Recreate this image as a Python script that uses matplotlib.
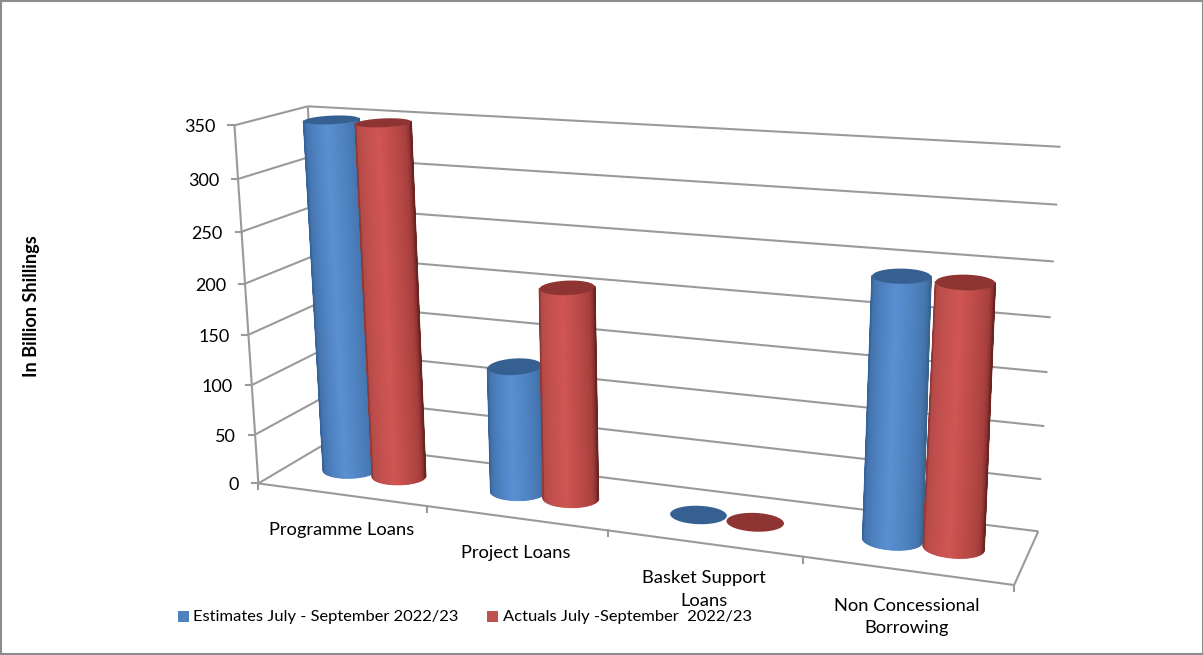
import matplotlib
matplotlib.use("Agg")
import matplotlib.pyplot as plt
import numpy as np
from matplotlib.collections import LineCollection
from matplotlib.colors import LinearSegmentedColormap
from matplotlib.patches import Polygon, Rectangle

plt.rcParams['font.family'] = ['Lato', 'DejaVu Sans']

categories = ["Programme Loans", "Project Loans", "Basket Support\nLoans", "Non Concessional\nBorrowing"]
series_names = ["Estimates July - September 2022/23", "Actuals July -September  2022/23"]
estimates = [349, 125, 0, 242]
actuals = [349, 206, 0, 241]
y_ticks = [0, 50, 100, 150, 200, 250, 300, 350]
y_label = "In Billion Shillings"

blue_shades = ["#37639a", "#4373ad", "#5a90d3", "#4577b1", "#3a6390"]
red_shades = ["#8f3a38", "#b54b49", "#d05653", "#a8403e", "#6a2422"]
shade_stops = [0, 0.12, 0.45, 0.8, 1]

BAR_STEP = 0.15
BASE_RU, BASE_RW = 0.145, 0.18
TOP_RU, TOP_RW = 0.135, 0.22
BAR_DEPTH = 0.5

# frame of the 3d box as it sits on the canvas: (category pos, value, depth) -> pixel
# used only to fit the camera below
frame_3d = [(0, 0, 0), (0, 350, 0), (0, 350, 1), (0, 0, 1), (4, 0, 1), (4, 350, 1), (4, 0, 0),
            (1, 0, 0), (2, 0, 0), (4, 200, 1), (4, 100, 1), (0, 100, 0), (0, 200, 0)]
frame_px = [(257, 484), (236, 125), (306, 107), (328, 442), (1038, 532), (1061, 147), (1014, 584),
            (427, 507), (608, 531), (1050, 317), (1045, 426), (252, 385), (245, 283)]


def fit_camera(pts3, pts2):
    a = []
    b = []
    for (u, v, w), (x, y) in zip(pts3, pts2):
        a.append([u, v, w, 1, 0, 0, 0, 0, -x * u, -x * v, -x * w])
        a.append([0, 0, 0, 0, u, v, w, 1, -y * u, -y * v, -y * w])
        b += [x, y]
    sol = np.linalg.lstsq(np.array(a, float), np.array(b, float), rcond=None)[0]
    return np.append(sol, 1).reshape(3, 4)


cam = fit_camera(frame_3d, frame_px)


def proj(u, v, w):
    u, v, w = np.broadcast_arrays(u, v, w)
    p = cam @ np.stack([u, v, w, np.ones_like(u)]).astype(float)
    return p[0] / p[2], p[1] / p[2]


def draw_line(ax, a, b, **kw):
    xa, ya = proj(*a)
    xb, yb = proj(*b)
    ax.plot([xa, xb], [ya, yb], color="#9a9a9a", lw=1.5, solid_capstyle='butt', **kw)


def ring(uc, v, t):
    # tops read rounder than the floor circles in the original
    ru, rw = (TOP_RU, TOP_RW) if v > 0 else (BASE_RU, BASE_RW)
    return proj(uc + ru * np.cos(t), v, BAR_DEPTH + rw * np.sin(t))


def front_arc(uc, v):
    # left to right along the near side of the ellipse, as seen on screen
    t = np.linspace(np.pi * 0.5, np.pi * 2.5, 720)
    x, _ = ring(uc, v, t)
    return np.linspace(t[np.argmin(x)], t[np.argmax(x)], 80)


def cylinder(ax, uc, value, shades, top_color, z):
    cmap = LinearSegmentedColormap.from_list("c", list(zip(shade_stops, shades)))
    t = np.linspace(0, 2 * np.pi, 200)
    if value > 0:
        x0, y0 = ring(uc, 0, front_arc(uc, 0))
        x1, y1 = ring(uc, value, front_arc(uc, value))
        s = np.linspace(0, 1, 80)
        ax.pcolormesh(np.vstack([x0, x1]), np.vstack([y0, y1]), np.vstack([s, s]),
                      cmap=cmap, shading='gouraud', vmin=0, vmax=1, zorder=z)
        # the mesh has no antialiasing, so run soft lines over its edges
        ax.plot([x0[0], x1[0]], [y0[0], y1[0]], color=shades[0], lw=1.2, zorder=z)
        ax.plot([x0[-1], x1[-1]], [y0[-1], y1[-1]], color=shades[-1], lw=1.2, zorder=z)
        segs = np.stack([np.c_[x0[:-1], y0[:-1]], np.c_[x0[1:], y0[1:]]], axis=1)
        rim = LineCollection(segs, cmap=cmap, lw=1.2, zorder=z)
        rim.set_array(s[:-1])
        rim.set_clim(0, 1)
        ax.add_collection(rim)
    tx, ty = ring(uc, value, t)
    ax.add_patch(Polygon(np.c_[tx, ty], fc=top_color, ec='none', zorder=z))


fig = plt.figure(figsize=(12.03, 6.55), dpi=100)
ax = fig.add_axes([0, 0, 1, 1])
ax.set_xlim(0, 1203)
ax.set_ylim(655, 0)
ax.axis('off')

ax.add_patch(Rectangle((0.5, 0.5), 1202, 653, fc='none', ec='#8c8c8c', lw=1.5))

n = len(categories)
for val in y_ticks:
    draw_line(ax, (0, val, 0), (0, val, 1))
    draw_line(ax, (0, val, 1), (n, val, 1))
    x, y = proj(0, val, 0)
    ax.plot([x - 6, x], [y, y], color="#9a9a9a", lw=1.5)
    ax.text(x - 19, y + 2, str(val), ha='right', va='center', fontsize=13, color='black')
draw_line(ax, (0, 0, 0), (0, 350, 0))
draw_line(ax, (0, 0, 1), (0, 350, 1))
draw_line(ax, (0, 0, 0), (n, 0, 0))
draw_line(ax, (n, 0, 0), (n, 0, 1))
for i in range(n + 1):
    x, y = proj(i, 0, 0)
    ax.plot([x, x], [y, y + 6], color="#9a9a9a", lw=1.5)

for i in range(n):
    uc = i + 0.5
    cylinder(ax, uc - BAR_STEP, estimates[i], blue_shades, "#376092", 3 + i)
    cylinder(ax, uc + BAR_STEP, actuals[i], red_shades, "#8e3533", 3.5 + i)
    x, y = proj(uc, 0, 0)
    ax.text(x, y + 27, categories[i], ha='center', va='top', fontsize=13.2,
            color='black', linespacing=1.5, zorder=10)

ax.text(32, 306, y_label, rotation=90, ha='center', va='center', fontsize=13.1,
        fontweight='bold', color='black')

ax.add_patch(Rectangle((178, 611), 11, 11, fc="#4f81bd", ec='none'))
ax.text(193, 617, series_names[0], ha='left', va='center', fontsize=11.85, zorder=10)
ax.add_patch(Rectangle((487, 611), 11, 11, fc="#c0504d", ec='none'))
ax.text(503, 617, series_names[1], ha='left', va='center', fontsize=11.85, zorder=10)

fig.savefig("out.png", dpi=100)
